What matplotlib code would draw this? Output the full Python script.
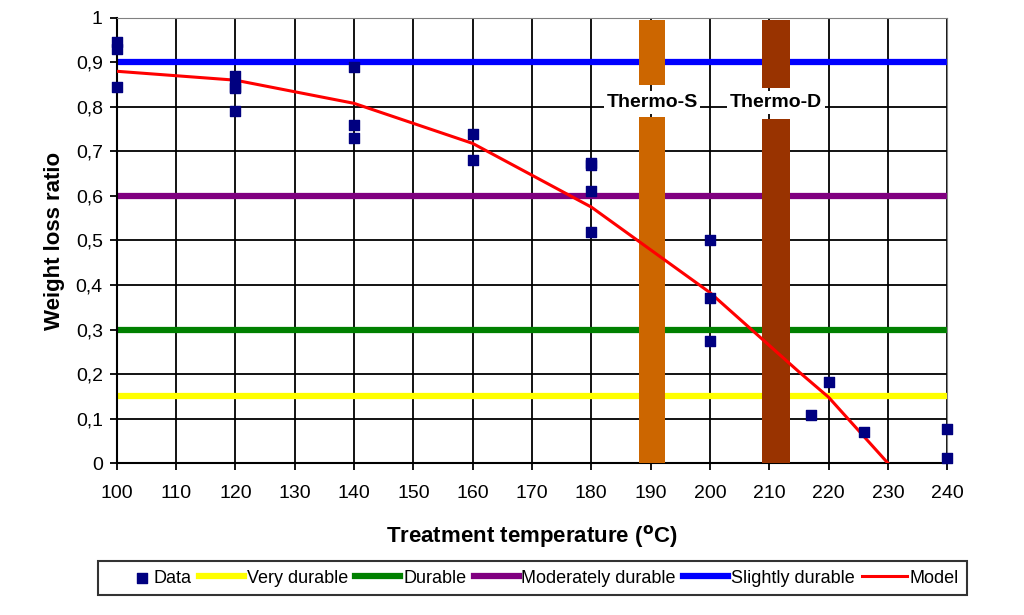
import matplotlib.pyplot as plt
from matplotlib.ticker import FuncFormatter
from matplotlib.legend_handler import HandlerPathCollection

plt.rcParams['font.family'] = ['Liberation Sans', 'DejaVu Sans']

# measured data points (temperature, weight loss ratio)
data_x = [100, 100, 100, 120, 120, 120, 120, 140, 140, 140, 160, 160,
          180, 180, 180, 180, 200, 200, 200, 217, 220, 226, 240, 240]
data_y = [0.945, 0.93, 0.845, 0.87, 0.845, 0.842, 0.79, 0.89, 0.76, 0.73, 0.74, 0.68,
          0.675, 0.67, 0.61, 0.52, 0.50, 0.37, 0.275, 0.107, 0.183, 0.07, 0.077, 0.012]

# model curve
model_x = [100, 120, 140, 160, 180, 200, 215, 220, 230]
model_y = [0.88, 0.86, 0.808, 0.718, 0.575, 0.383, 0.205, 0.148, 0.0]

# durability class limits
classes = ['Very durable', 'Durable', 'Moderately durable', 'Slightly durable']
limits = [0.15, 0.30, 0.60, 0.90]
class_colors = ['#FFFF00', '#008000', '#800080', '#0000FF']

# treatment bands
bands = ['Thermo-S', 'Thermo-D']
band_lo = [188.0, 208.8]
band_hi = [192.5, 213.5]
band_gap = [(0.777, 0.85), (0.772, 0.843)]
band_colors = ['#CC6600', '#993300']


class MarkerRight(HandlerPathCollection):
    # put the legend marker close to its label, like the original
    def get_xdata(self, legend, xdescent, ydescent, width, height, fontsize):
        return [-xdescent, -xdescent + width], [-xdescent + width - 0.5 * fontsize]


fig = plt.figure(figsize=(10.24, 6.15), dpi=100)
ax = fig.add_axes([0.114, 0.247, 0.811, 0.724])

ax.set_xlim(100, 240)
ax.set_ylim(0, 1)
ax.set_xticks(range(100, 241, 10))
ax.set_yticks([i / 10 for i in range(11)])
ax.yaxis.set_major_formatter(FuncFormatter(
    lambda v, p: '0' if v == 0 else ('1' if v == 1 else f'{v:.1f}'.replace('.', ','))))
ax.grid(True, color='black', linewidth=1.3, zorder=0)
ax.set_axisbelow(True)
ax.tick_params(labelsize=14, length=5, width=1.3, direction='out')
ax.tick_params(axis='x', pad=11)
ax.tick_params(axis='y', pad=5)
for s in ['left', 'bottom']:
    ax.spines[s].set_linewidth(1.5)
for s in ['top', 'right']:
    ax.spines[s].set_color('#808080')

handles = []
h = ax.scatter(data_x, data_y, marker='s', s=42, color='#000080', zorder=5,
               clip_on=False, label='Data')
handles.append(h)
for name, lim, c in zip(classes, limits, class_colors):
    ln = ax.axhline(lim, color=c, linewidth=4.5, zorder=2, label=name)
    handles.append(ln)

for name, lo, hi, gap, c in zip(bands, band_lo, band_hi, band_gap, band_colors):
    ax.fill_between([lo, hi], 0, gap[0], color=c, zorder=3, linewidth=0)
    ax.fill_between([lo, hi], gap[1], 0.995, color=c, zorder=3, linewidth=0)
    ax.text((lo + hi) / 2, 0.81, name, ha='center', va='center', fontsize=14,
            fontweight='bold', zorder=6,
            bbox=dict(facecolor='white', edgecolor='none', pad=2))

ml, = ax.plot(model_x, model_y, color='#FF0000', linewidth=2.2, zorder=4, label='Model')
handles.append(ml)

ax.set_ylabel('Weight loss ratio', fontsize=16, fontweight='bold', labelpad=8)
ax.set_xlabel(r'Treatment temperature ($^{\mathbf{o}}$C)', fontsize=16,
              fontweight='bold', labelpad=15)

leg = fig.legend(handles=handles, loc='center', bbox_to_anchor=(0.52, 0.06), ncol=6,
                 fontsize=13, frameon=True, fancybox=False, edgecolor='black',
                 handlelength=2.5, handletextpad=0.15, columnspacing=0.4, borderpad=0.45,
                 scatterpoints=1, handler_map={type(h): MarkerRight()})
leg.get_frame().set_linewidth(1.5)

fig.savefig('out.png', dpi=100)
